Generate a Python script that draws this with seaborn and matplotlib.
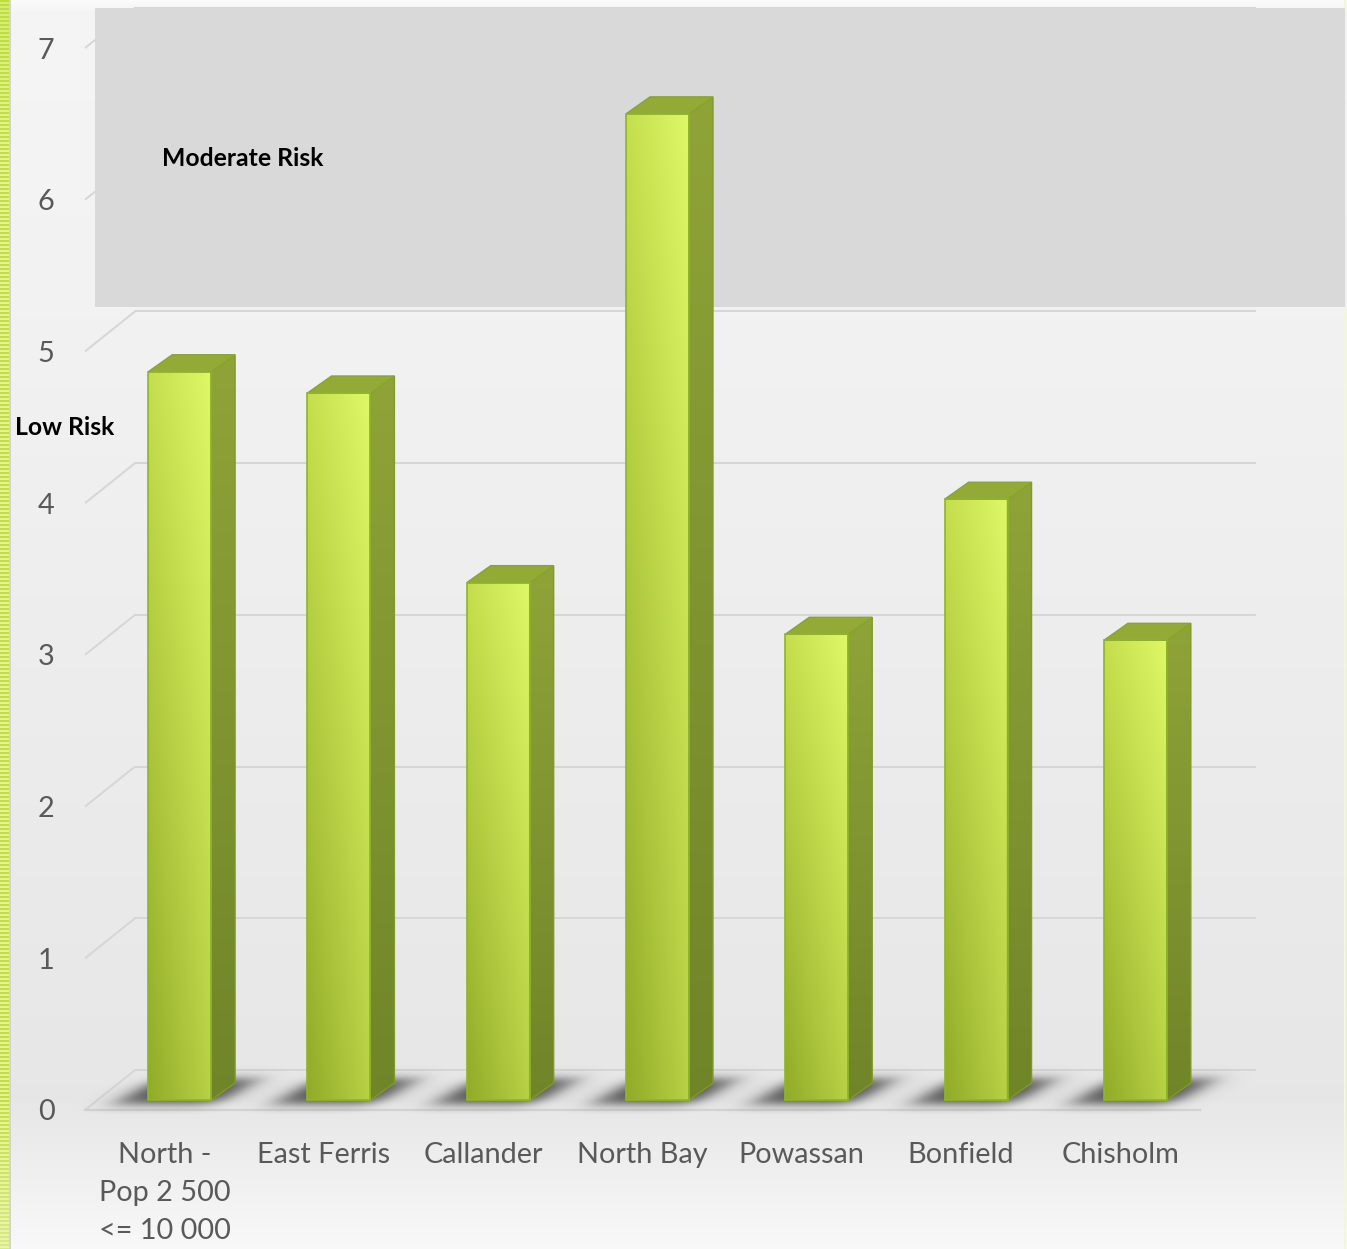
import numpy as np
import pandas as pd
import matplotlib
matplotlib.use("Agg")
import matplotlib.pyplot as plt
import seaborn as sns
from matplotlib.patches import Rectangle, Polygon

# ---- data -------------------------------------------------------------
categories = ["North -\nPop 2 500\n<= 10 000", "East Ferris", "Callander",
              "North Bay", "Powassan", "Bonfield", "Chisholm"]
values = [4.80, 4.66, 3.41, 6.50, 3.07, 3.96, 3.03]
y_ticks = [0, 1, 2, 3, 4, 5, 6, 7]
zone_moderate = "Moderate Risk"
zone_low = "Low Risk"

# ---- canvas -----------------------------------------------------------
W, H, DPI = 1347, 1249, 100
plt.rcParams['font.family'] = ['Lato', 'DejaVu Sans']
fig = plt.figure(figsize=(W / DPI, H / DPI), dpi=DPI)

# background: soft vertical grey gradient with a striped green edge on the left
rows = np.arange(H)
lum = np.interp(rows, [0, 10, 300, 1100, 1249], [0.985, 0.96, 0.95, 0.905, 0.975])
bg_img = np.repeat(lum[:, None, None], W, axis=1).repeat(3, axis=2)
stripe_a = np.array([0.76, 0.88, 0.24])
stripe_b = np.array([0.90, 0.95, 0.60])
stripe = np.where(((rows // 2) % 2 == 0)[:, None], stripe_a, stripe_b)
top_boost = np.clip(1 - rows / 150, 0, 1)[:, None]
stripe = stripe * (1 - top_boost * 0.3) + np.array([0.70, 0.86, 0.18]) * top_boost * 0.3
fade = np.clip((rows - 1100) / 149, 0, 1)[:, None]
stripe = stripe * (1 - fade * 0.5) + np.array([0.93, 0.96, 0.78]) * fade * 0.5
bg_img[:, 0:9, :] = stripe[:, None, :]
bg_img[:, 9:11, :] = 0.83
bg_img[:, W - 3:W - 1, :] = np.array([0.96, 0.97, 0.82])
bg = fig.add_axes([0, 0, 1, 1], zorder=-10)
bg.imshow(bg_img, extent=[0, 1, 0, 1], aspect='auto', origin='upper')
bg.set_axis_off()

# main axes: front plane of the chart
ax = fig.add_axes([85 / W, (H - 1110) / H, 1115 / W, 1062 / H])
ax.set_facecolor('none')
df = pd.DataFrame({"area": categories, "value": values})
sns.barplot(data=df, x="area", y="value", width=0.395, color="#c8e050",
            ax=ax, zorder=6)
bars = list(ax.patches)
ax.set_xlim(-0.5, 6.5)
ax.set_ylim(0, 7)

sx = 7 / 1115   # data units per pixel (x)
sy = 7 / 1062   # data units per pixel (y)

for s in ax.spines.values():
    s.set_visible(False)
ax.set_xlabel("")
ax.set_ylabel("")
ax.set_yticks(y_ticks)
ax.set_yticklabels([str(t) for t in y_ticks])
ax.tick_params(axis='both', length=0, labelsize=20.8, labelcolor='#595959')
ax.tick_params(axis='y', pad=22)
ax.tick_params(axis='x', pad=23)
for lbl in ax.get_xticklabels():
    lbl.set_linespacing(1.58)

# perspective gridlines: short diagonal on the side wall, then along the back wall
gx, gy = 50 * sx, 40 * sy
x_back_right = -0.5 + (1255 - 85) * sx
grid_c = '#d6d6d6'
for t in y_ticks:
    ax.plot([-0.5, -0.5 + gx], [t, t + gy], color=grid_c, lw=1.4,
            clip_on=False, zorder=1, solid_capstyle='butt')
    ax.plot([-0.5 + gx, x_back_right], [t + gy, t + gy], color=grid_c,
            lw=1.4, clip_on=False, zorder=1)
# floor front edge
ax.plot([-0.5, 6.5], [0, 0], color='#d3d3d3', lw=1.6, clip_on=False, zorder=1)

# moderate-risk band behind the bars
band_lo = (1110 - 307) * sy
band_hi = (1110 - 8) * sy
band_x0 = -0.5 + (95 - 85) * sx
band_x1 = -0.5 + (1345 - 85) * sx
ax.add_patch(Rectangle((band_x0, band_lo), band_x1 - band_x0, band_hi - band_lo,
                       facecolor='#d9d9d9', edgecolor='none', zorder=2,
                       clip_on=False))


def sig(z):
    return 1 / (1 + np.exp(-z))


# bars: front face from seaborn, with side/top faces and floor shadow
shift_x, shift_y = 15 * sx, 10 * sy
dx, dy = 24 * sx, 17 * sy
front_grad = np.zeros((60, 60, 3))
hh = np.linspace(0, 1, 60)[None, :]        # left -> right
vv = np.linspace(0, 1, 60)[:, None]        # bottom -> top
left_c = np.array([0.57, 0.67, 0.16]) * (1 - vv) + np.array([0.77, 0.87, 0.30]) * vv
right_c = np.array([0.72, 0.82, 0.27]) * (1 - vv) + np.array([0.87, 0.97, 0.40]) * vv
for k in range(3):
    front_grad[:, :, k] = left_c[:, k:k + 1] * (1 - hh) + right_c[:, k:k + 1] * hh
side_grad = np.zeros((60, 2, 3))
side_grad[:, :, :] = (np.array([0.44, 0.52, 0.16]) * (1 - vv)
                      + np.array([0.56, 0.64, 0.22]) * vv)[:, None, :]

for p in bars:
    p.set_x(p.get_x() + shift_x)
    p.set_y(p.get_y() + shift_y)
    x0, w = p.get_x(), p.get_width()
    y0 = p.get_y()
    top = y0 + p.get_height()

    # blurred floor shadow
    wpx = w / sx
    us = np.arange(-70, wpx + 100)
    vs = np.arange(-12, 38)
    U, V = np.meshgrid(us, vs)
    xs = U - V * (40 / 24)
    a = (sig((xs + 30) / 8) * sig((wpx + 10 - xs) / 8)
         * sig((V + 2) / 3.0) * sig((23 - V) / 3.0)) * 0.85
    sh = np.zeros(a.shape + (4,))
    sh[..., :3] = 0.2
    sh[..., 3] = a
    sim = ax.imshow(sh, origin='lower', aspect='auto', interpolation='bilinear',
                    extent=[x0 + us[0] * sx, x0 + us[-1] * sx,
                            y0 + (vs[0] - 2) * sy, y0 + (vs[-1] - 2) * sy],
                    zorder=3)
    sim.set_clip_on(False)

    # side face
    side = Polygon([(x0 + w, y0), (x0 + w + dx, y0 + dy),
                    (x0 + w + dx, top + dy), (x0 + w, top)],
                   closed=True, facecolor='none', edgecolor='#7f9a26',
                   lw=1, zorder=7)
    ax.add_patch(side)
    im = ax.imshow(side_grad, origin='lower', aspect='auto',
                   extent=[x0 + w, x0 + w + dx, y0, top + dy], zorder=6,
                   interpolation='bilinear')
    im.set_clip_path(side)

    # top face
    ax.add_patch(Polygon([(x0, top), (x0 + w, top), (x0 + w + dx, top + dy),
                          (x0 + dx, top + dy)], closed=True,
                         facecolor='#93aa36', edgecolor='#88a62a', lw=1,
                         zorder=7))

    # front face gradient
    im = ax.imshow(front_grad, origin='lower', aspect='auto',
                   extent=[x0, x0 + w, y0, top], zorder=6,
                   interpolation='bilinear')
    im.set_clip_path(p)
    p.set_facecolor('none')
    p.set_edgecolor('#8fb52a')
    p.set_linewidth(1.2)
    p.set_zorder(8)

ax.set_xlim(-0.5, 6.5)
ax.set_ylim(0, 7)
ax.set_aspect('auto')

# zone captions
fig.text(162 / W, 1 - 158 / H, zone_moderate, fontsize=17.8, fontweight='bold',
         color='black', ha='left', va='center')
fig.text(15 / W, 1 - 427 / H, zone_low, fontsize=17.8, fontweight='bold',
         color='black', ha='left', va='center')

fig.savefig("out.png", dpi=DPI)
